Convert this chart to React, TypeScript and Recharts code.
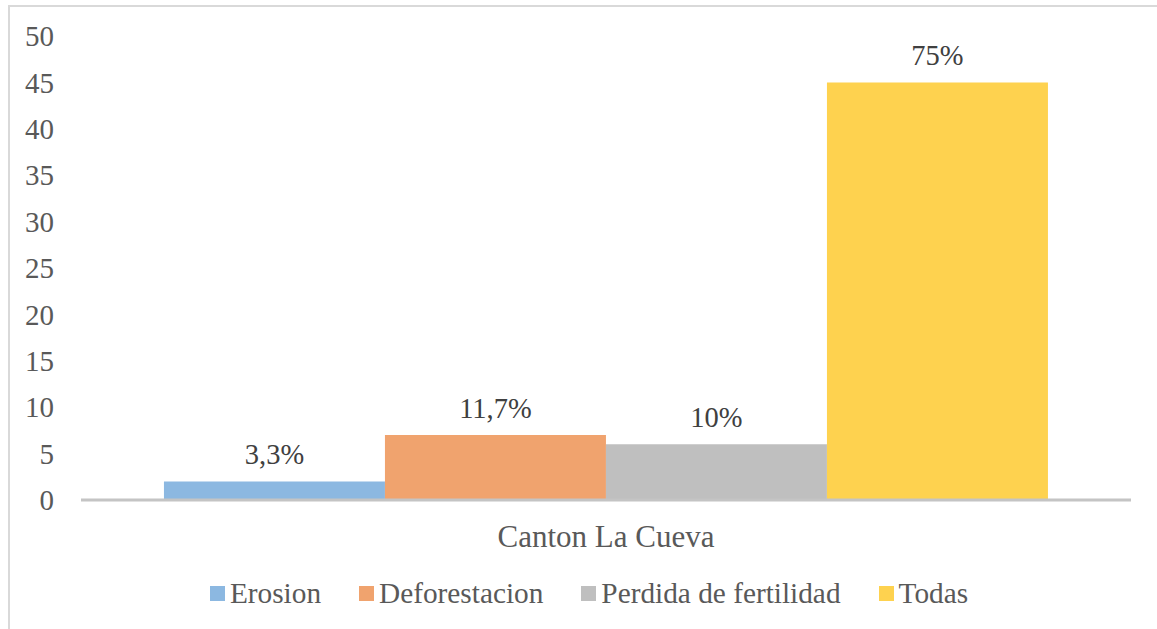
import React from 'react';
import { BarChart, Bar, XAxis, YAxis, Legend, LabelList } from 'recharts';

const category = 'Canton La Cueva';
const seriesNames = ['Erosion', 'Deforestacion', 'Perdida de fertilidad', 'Todas'];
const seriesValues = [2, 7, 6, 45];
const seriesLabels = ['3,3%', '11,7%', '10%', '75%'];
const yTicks = [0, 5, 10, 15, 20, 25, 30, 35, 40, 45, 50];

const colors = ['#8CB8E1', '#F0A36E', '#BFBFBF', '#FED24F'];
const FONT = '"Liberation Serif", "Times New Roman", serif';
const TEXT = '#595959';

// one row, one key per series
const row: Record<string, any> = { name: category };
seriesNames.forEach((s, i) => {
  row[s] = seriesValues[i];
});
const data = [row];

function LegendContent() {
  return (
    <div
      style={{
        display: 'flex',
        justifyContent: 'center',
        alignItems: 'center',
        height: 40,
        fontFamily: FONT,
        fontSize: 29.3,
        color: TEXT,
        paddingLeft: 47,
      }}
    >
      {seriesNames.map((s, i) => (
        <div key={s} style={{ display: 'flex', alignItems: 'center', marginRight: i < seriesNames.length - 1 ? 38 : 0 }}>
          <span style={{ display: 'inline-block', width: 15, height: 15, background: colors[i], marginRight: 5 }} />
          <span>{s}</span>
        </div>
      ))}
    </div>
  );
}

export default function App() {
  return (
    <div style={{ position: 'absolute', left: 0, top: 0, width: 1157, height: 629, background: '#fff', overflow: 'hidden' }}>
      <div
        style={{
          position: 'absolute',
          left: 8,
          top: 5,
          width: 1200,
          height: 700,
          borderLeft: '2px solid #D9D9D9',
          borderTop: '2px solid #D9D9D9',
        }}
      />
      <div style={{ position: 'absolute', left: 0, top: 0 }}>
        <BarChart
          width={1157}
          height={629}
          data={data}
          margin={{ top: 36, right: 26, left: 0, bottom: 16 }}
          barCategoryGap="7.9%"
          barGap={0}
        >
          <XAxis
            dataKey="name"
            axisLine={{ stroke: '#C4C4C4', strokeWidth: 3 }}
            tickLine={false}
            tickSize={0}
            tickMargin={25}
            height={73}
            tick={{ fontFamily: FONT, fontSize: 31, fill: TEXT }}
          />
          <YAxis
            domain={[0, 50]}
            ticks={yTicks}
            interval={0}
            axisLine={false}
            tickLine={false}
            tickSize={0}
            tickMargin={27}
            width={81}
            tick={{ fontFamily: FONT, fontSize: 29, fill: TEXT }}
          />
          <Legend verticalAlign="bottom" height={40} content={<LegendContent />} />
          {seriesNames.map((s, i) => (
            <Bar key={s} dataKey={s} fill={colors[i]} isAnimationActive={false}>
              <LabelList
                dataKey={s}
                position="top"
                offset={17}
                formatter={() => seriesLabels[i]}
                style={{ fontFamily: FONT, fontSize: 28.5, fill: '#404040' }}
              />
            </Bar>
          ))}
        </BarChart>
      </div>
    </div>
  );
}
